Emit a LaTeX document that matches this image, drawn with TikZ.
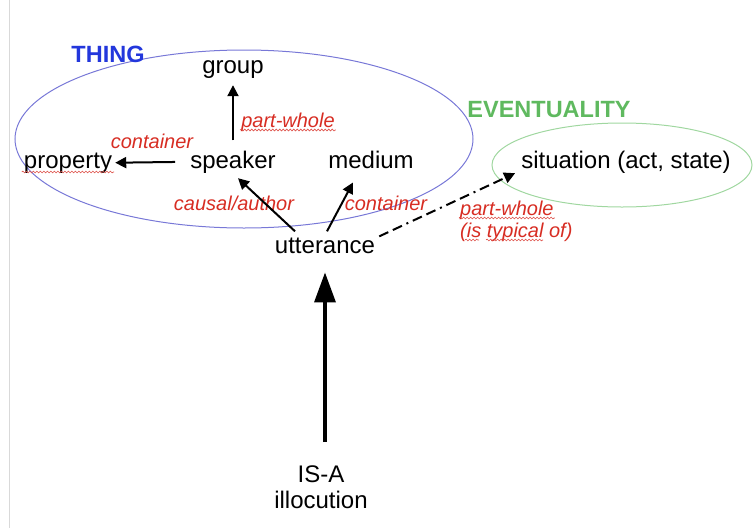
\documentclass[tikz,border=0pt]{standalone}
\usepackage{fontspec}
\setmainfont{Liberation Sans}
\usetikzlibrary{arrows.meta, decorations.pathmorphing}
\definecolor{thingblue}{RGB}{35, 55, 220}
\definecolor{thingline}{RGB}{120, 120, 215}
\definecolor{eventgreen}{RGB}{95, 185, 95}
\definecolor{eventline}{RGB}{160, 215, 160}
\definecolor{relred}{RGB}{215, 45, 35}
\tikzset{
  concept/.style={
    font=\fontsize{24}{26}\selectfont,
    inner sep=2pt,
    anchor=base
  },
  relation/.style={
    font=\fontsize{20}{23}\selectfont\itshape,
    text=relred,
    inner sep=1pt,
    anchor=base
  },
  category/.style={
    font=\fontsize{23.5}{26}\selectfont\bfseries,
    inner sep=1pt,
    anchor=base
  },
  link/.style={
    -{Triangle[length=11pt, width=11pt]},
    line width=2pt
  },
  typical/.style={
    link,
    dash pattern=on 10pt off 5pt on 10pt off 5pt on 2pt off 5pt
  },
  isa/.style={
    -{Triangle[length=30pt, width=21pt]},
    line width=3.5pt
  },
  squiggle/.style={
    draw=relred!85,
    line width=0.6pt,
    decorate,
    decoration={snake, amplitude=0.9pt, segment length=3.5pt}
  }
}

\begin{document}
\begin{tikzpicture}[x=1pt, y=-1pt]
  \useasboundingbox (0,0) rectangle (753,528);
  \draw[black!15, line width=1pt] (9.5,0) -- (9.5,528);
  % the two sorts
  \draw[thingline, line width=1pt] (244,139) ellipse [x radius=229pt, y radius=89pt];
  \draw[eventline, line width=1pt] (622,165) ellipse [x radius=130pt, y radius=42pt];
  \node[category, text=thingblue] (thing) at (108,62) {THING};
  \node[category, text=eventgreen] (event) at (549,117) {EVENTUALITY};
  % concepts
  \node[concept] (grp) at (233,73) {group};
  \node[concept] (prop) at (68,168) {property};
  \node[concept] (spk) at (233,168) {speaker};
  \node[concept] (med) at (371,168) {medium};
  \node[concept] (sit) at (626,168) {situation (act, state)};
  \node[concept] (utt) at (325,253) {utterance};
  \node[concept] (isa) at (321,482) {IS-A};
  \node[concept] (ill) at (321,508) {illocution};
  % relations
  \node[relation] (pw1) at (288,127) {part-whole};
  \node[relation] (cnt1) at (152,148) {container};
  \node[relation] (caus) at (234,210) {causal/author};
  \node[relation] (cnt2) at (386,210) {container};
  \node[relation, anchor=base west] (pw2) at (459,215) {part-whole};
  \node[relation, anchor=base west] (typ) at (459,237) {(is typical of)};
  % links
  \draw[link, shorten <=8pt, shorten >=5pt] (spk.north) -- (spk.north |- grp.south);
  \draw[link, shorten <=13pt, shorten >=1pt] (spk.west) -- (prop.east);
  \draw[link] ([xshift=-30pt, yshift=4pt]utt.north) -- ([xshift=5pt, yshift=-3pt]spk.south);
  \draw[link] ([xshift=2pt, yshift=4pt]utt.north) -- ([xshift=-18pt, yshift=-12pt]med.south);
  \draw[typical] ([xshift=2pt, yshift=9pt]utt.east) -- ([xshift=-4pt, yshift=2pt]sit.south west);
  \draw[isa, shorten <=21pt, shorten >=17pt] (isa.north -| utt.south) -- (utt.south);
  % spelling marks
  \draw[squiggle] ([yshift=-4pt]prop.base west) -- ([yshift=-4pt]prop.base east);
  \draw[squiggle] ([yshift=-3pt]pw1.base west) -- ([yshift=-3pt]pw1.base east);
  \draw[squiggle] ([yshift=-3pt]pw2.base west) -- ([yshift=-3pt]pw2.base east);
  \draw[squiggle] ([xshift=6pt, yshift=-3pt]typ.base west) -- ([xshift=20pt, yshift=-3pt]typ.base west);
  \draw[squiggle] ([xshift=27pt, yshift=-3pt]typ.base west) -- ([xshift=84pt, yshift=-3pt]typ.base west);
\end{tikzpicture}
\end{document}
